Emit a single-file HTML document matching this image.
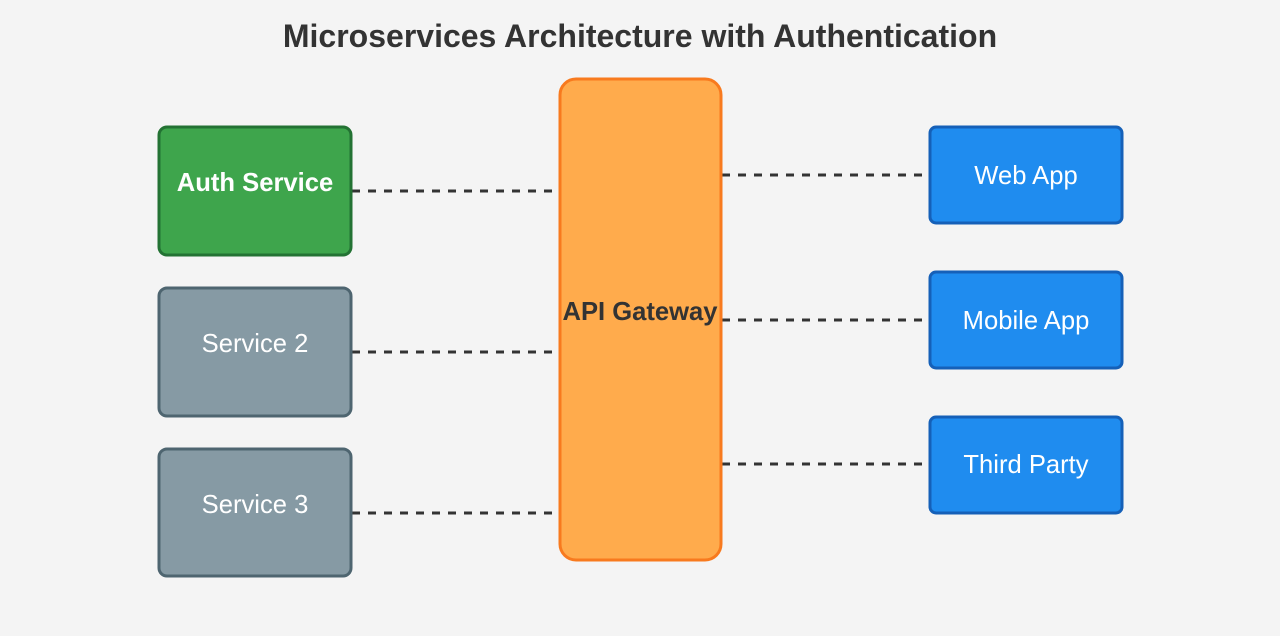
<!DOCTYPE html>
<html><head><style>html,body{margin:0;padding:0;background:#f4f4f4}svg{display:block}</style></head><body>
<svg width="1280" height="636" xmlns="http://www.w3.org/2000/svg" font-family="Liberation Sans, Arial, sans-serif">
<rect width="1280" height="636" fill="#f4f4f4"/>
<text x="640" y="47" text-anchor="middle" font-size="32" font-weight="bold" fill="#333">Microservices Architecture with Authentication</text>
<g stroke="#333" stroke-width="3" stroke-dasharray="8,8">
<line x1="352" y1="191" x2="554" y2="191"/>
<line x1="352" y1="352" x2="554" y2="352"/>
<line x1="352" y1="513" x2="554" y2="513"/>
<line x1="722" y1="175" x2="922" y2="175"/>
<line x1="722" y1="320" x2="922" y2="320"/>
<line x1="722" y1="464" x2="922" y2="464"/>
</g>
<rect x="159" y="127" width="192" height="128" rx="8" fill="#3ea54c" stroke="#237233" stroke-width="3"/>
<text x="255" y="191" text-anchor="middle" font-size="25.6" font-weight="bold" fill="#fff">Auth Service</text>
<rect x="159" y="288" width="192" height="128" rx="8" fill="#869aa4" stroke="#4e6570" stroke-width="3"/>
<text x="255" y="352" text-anchor="middle" font-size="25.6" fill="#fff">Service 2</text>
<rect x="159" y="449" width="192" height="127" rx="8" fill="#869aa4" stroke="#4e6570" stroke-width="3"/>
<text x="255" y="513" text-anchor="middle" font-size="25.6" fill="#fff">Service 3</text>
<rect x="560" y="79" width="161" height="481" rx="16" fill="#ffab4c" stroke="#f87a1e" stroke-width="3"/>
<text x="640" y="320" text-anchor="middle" font-size="25.6" font-weight="bold" fill="#333">API Gateway</text>
<rect x="930" y="127" width="192" height="96" rx="6" fill="#1f8cef" stroke="#1560b8" stroke-width="3"/>
<text x="1026" y="184" text-anchor="middle" font-size="25.6" fill="#fff">Web App</text>
<rect x="930" y="272" width="192" height="96" rx="6" fill="#1f8cef" stroke="#1560b8" stroke-width="3"/>
<text x="1026" y="329" text-anchor="middle" font-size="25.6" fill="#fff">Mobile App</text>
<rect x="930" y="417" width="192" height="96" rx="6" fill="#1f8cef" stroke="#1560b8" stroke-width="3"/>
<text x="1026" y="473" text-anchor="middle" font-size="25.6" fill="#fff">Third Party</text>
</svg>
</body></html>
